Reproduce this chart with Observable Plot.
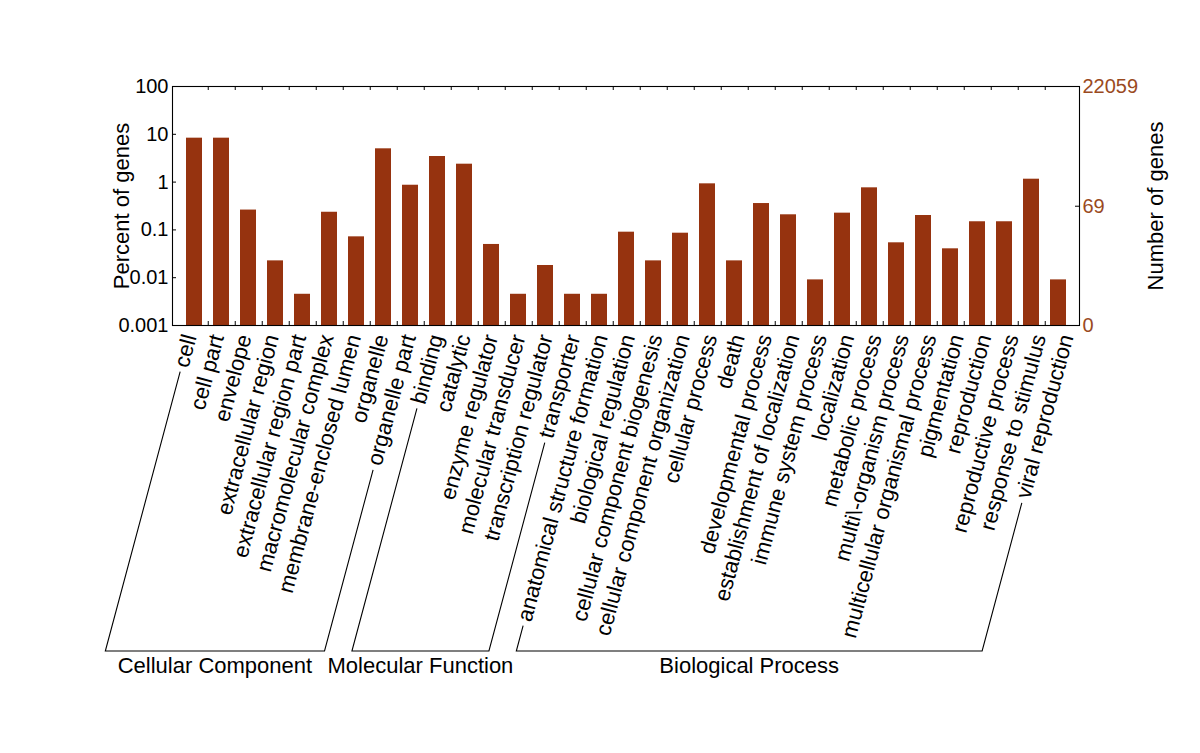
<!DOCTYPE html>
<html><head><meta charset="utf-8">
<script src="https://cdn.jsdelivr.net/npm/d3@7"></script>
<script src="https://cdn.jsdelivr.net/npm/@observablehq/plot@0.6"></script>
<style>html,body{margin:0;padding:0;background:#fff} svg{display:block}</style>
</head><body><div id="chart"></div>
<script>
// ---------------- data ----------------
const groupNames = ["Cellular Component", "Molecular Function", "Biological Process"];

const ccTerms = ["cell", "cell part", "envelope", "extracellular region", "extracellular region part",
  "macromolecular complex", "membrane-enclosed lumen", "organelle", "organelle part"];
const ccPct = [8.3, 8.3, 0.26, 0.0225, 0.0045, 0.234, 0.0716, 4.97, 0.86];

const mfTerms = ["binding", "catalytic", "enzyme regulator", "molecular transducer",
  "transcription regulator", "transporter"];
const mfPct = [3.43, 2.37, 0.0496, 0.0045, 0.018, 0.0045];

const bpTerms = ["anatomical structure formation", "biological regulation", "cellular component biogenesis",
  "cellular component organization", "cellular process", "death", "developmental process",
  "establishment of localization", "immune system process", "localization", "metabolic process",
  "multi\\-organism process", "multicellular organismal process", "pigmentation", "reproduction",
  "reproductive process", "response to stimulus", "viral reproduction"];
const bpPct = [0.0045, 0.0896, 0.0225, 0.0853, 0.92, 0.0225, 0.356, 0.207, 0.009, 0.224, 0.759,
  0.0537, 0.2, 0.0402, 0.148, 0.148, 1.15, 0.009];

const leftTicks = [0.001, 0.01, 0.1, 1, 10, 100];
const leftTickLabels = ["0.001", "0.01", "0.1", "1", "10", "100"];
const totalGenes = 22059;
const rightTickCounts = [0, 69, 22059];
const rightTickLabels = ["0", "69", "22059"];

// ---------------- table ----------------
const groups = [
  {name: groupNames[0], terms: ccTerms, pct: ccPct},
  {name: groupNames[1], terms: mfTerms, pct: mfPct},
  {name: groupNames[2], terms: bpTerms, pct: bpPct}
];
const data = groups.flatMap(g => g.terms.map((t, i) => ({group: g.name, term: t, pct: g.pct[i]})));
const terms = data.map(d => d.term);

// ---------------- style / layout ----------------
const W = 1200, H = 753;
const mL = 172, mR = 121, mT = 86, mB = 428;
const frameW = W - mL - mR, frameH = H - mT - mB;
const step = frameW / terms.length;
const yMin = leftTicks[0], yMax = leftTicks[leftTicks.length - 1];
const barColor = "#96330f";
const brown = "#9a4a1e";
const font = "'Liberation Sans', Arial, Helvetica, sans-serif";
const labelSize = 22, tickSize = 20, titleSize = 22;
const angle = 75;              // category label rotation (degrees)
const labelDx0 = -4, labelDrift = 0.4, labelDy = 10;
const baseY = H - 102;         // bracket baseline
const gap = 5;

const rightTicks = rightTickCounts.map(c => Math.max(c / totalGenes * 100, yMin));
const leftTickData = leftTicks.map((v, i) => ({v, label: leftTickLabels[i]}));
const rightTickData = rightTicks.map((v, i) => ({v, label: rightTickLabels[i]}));

const ctx = document.createElement("canvas").getContext("2d");
ctx.font = `${labelSize}px ${font}`;
const textW = s => ctx.measureText(s).width;

// category labels + group brackets, positioned with the plot's x scale
function labelsAndBrackets(index, scales, values, dims) {
  const out = d3.create("svg:g").attr("font-family", font).attr("fill", "black");
  const x = scales.x;
  const bw = x.bandwidth ? x.bandwidth() : 0;
  const th = angle * Math.PI / 180, c = Math.cos(th), s = Math.sin(th);
  const bottom = dims.height - dims.marginBottom;
  const anchor = t => {
    const i = terms.indexOf(t);
    return [x(t) + bw / 2 + labelDx0 + labelDrift * i, bottom + labelDy];
  };
  const lab = out.append("g").attr("font-size", labelSize).attr("text-anchor", "end");
  for (const t of terms) {
    const [ax, ay] = anchor(t);
    lab.append("text").attr("transform", `translate(${ax},${ay}) rotate(${-angle})`)
      .attr("dy", "0.32em").text(t);
  }
  const g = out.append("g").attr("fill", "none").attr("stroke", "black").attr("stroke-width", 1.1);
  for (const grp of groups) {
    const [a, b] = [grp.terms[0], grp.terms[grp.terms.length - 1]].map(t => {
      const [ax, ay] = anchor(t);
      const L = textW(t) + gap;
      const sx = ax - L * c, sy = ay + L * s;
      const k = (baseY - sy) / s;
      return {sx, sy, bx: sx - k * c};
    });
    g.append("path").attr("d", `M${a.sx},${a.sy}L${a.bx},${baseY}L${b.bx},${baseY}L${b.sx},${b.sy}`);
    out.append("text")
      .attr("x", (a.bx + b.bx) / 2).attr("y", baseY + 22)
      .attr("text-anchor", "middle").attr("font-size", titleSize).text(grp.name);
  }
  return out.node();
}

const chart = Plot.plot({
  width: W, height: H,
  marginLeft: mL, marginRight: mR, marginTop: mT, marginBottom: mB,
  style: {fontFamily: font, background: "white", overflow: "visible"},
  x: {type: "band", domain: terms, paddingInner: 0.42, paddingOuter: 0.21, axis: null},
  y: {type: "log", domain: [yMin, yMax], axis: null},
  marks: [
    Plot.barY(data, {x: "term", y1: yMin, y2: "pct", fill: barColor}),
    Plot.frame({stroke: "black", strokeWidth: 1.1}),
    // inward ticks on left and right axes
    Plot.tickY(leftTicks, {y: d => d, insetRight: frameW - 4, stroke: "black"}),
    Plot.tickY(rightTicks, {y: d => d, insetLeft: frameW - 4, stroke: "black"}),
    // ticks at band boundaries, top and bottom
    Plot.tickX(terms.slice(0, -1), {x: d => d, dx: step / 2, insetBottom: frameH - 4, stroke: "black"}),
    Plot.tickX(terms.slice(0, -1), {x: d => d, dx: step / 2, insetTop: frameH - 4, stroke: "black"}),
    // tick labels
    Plot.text(leftTickData, {y: "v", text: "label", frameAnchor: "left", textAnchor: "end",
      dx: -4, fontSize: tickSize, fill: "black"}),
    Plot.text(rightTickData, {y: "v", text: "label", frameAnchor: "right", textAnchor: "start",
      dx: 3, fontSize: tickSize, fill: brown}),
    // axis titles
    Plot.text(["Percent of genes"], {text: d => d, frameAnchor: "left", textAnchor: "middle",
      dx: -51, rotate: -90, fontSize: titleSize, fill: "black"}),
    Plot.text(["Number of genes"], {text: d => d, frameAnchor: "right", textAnchor: "middle",
      dx: 76, rotate: -90, fontSize: titleSize, fill: "black"}),
    labelsAndBrackets
  ]
});
document.getElementById("chart").appendChild(chart);
</script>
</body></html>
